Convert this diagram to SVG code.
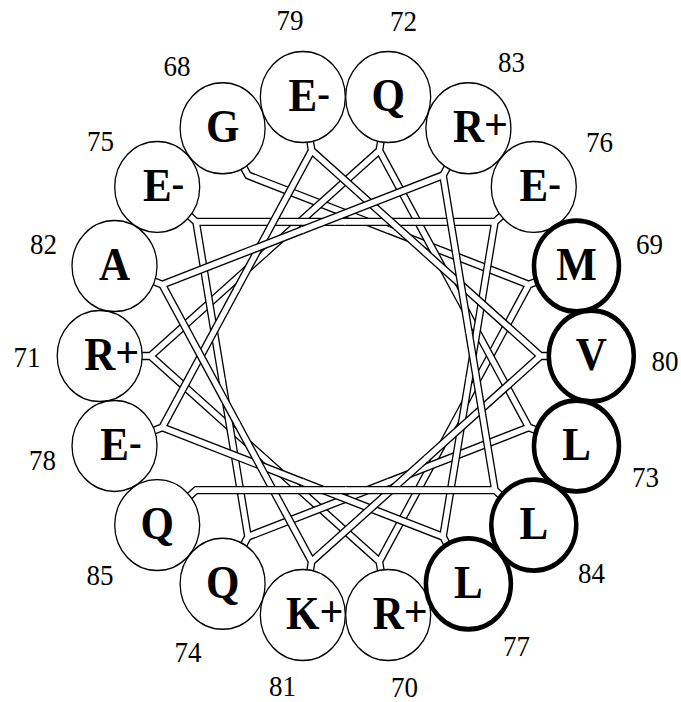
<svg xmlns="http://www.w3.org/2000/svg" xmlns:xlink="http://www.w3.org/1999/xlink" width="681" height="702" viewBox="0 0 681 702">
<style>
.c{fill:#fff;stroke:#000;stroke-width:1.3}
.t{fill:#fff;stroke:#000;stroke-width:4.5}
.aa{font-family:"Liberation Serif","Times New Roman",serif;font-weight:bold;font-size:43px;text-anchor:middle;fill:#000}
.as{font-family:"Liberation Serif","Times New Roman",serif;font-weight:bold;font-size:43px;text-anchor:start;fill:#000}
.pl{font-size:42px}
.mi{font-size:38px}
.num{font-family:"Liberation Serif","Times New Roman",serif;font-size:27px;text-anchor:middle;fill:#000}
.rb{fill:none;stroke:#000;stroke-width:7.9;stroke-linejoin:miter}
.rw{fill:none;stroke:#fff;stroke-width:5.3;stroke-linejoin:miter}
</style>
<defs>
<path id="yk" d="M-96.02,-80.57L0,-195L96.02,-80.57M0,-212L0,-195"/>
<path id="yw" d="M-96.98,-79.42L0,-195L96.98,-79.42M0,-212L0,-195"/>
<path id="sk" d="M0,-212L0,-195L96.02,-80.57"/>
<path id="sw" d="M0,-212L0,-195L96.98,-79.42"/>
<path id="ek" d="M0,-212L0,-195L-96.02,-80.57"/>
<path id="ew" d="M0,-212L0,-195L-96.98,-79.42"/>
</defs>
<rect width="681" height="702" fill="#fff"/>
<g id="wheel" transform="translate(345.5,356) scale(1,1.07)">
<g id="connectors">
<g transform="rotate(330)"><use href="#sk" class="rb"/><use href="#sw" class="rw"/></g>
<g transform="rotate(70)"><use href="#yk" class="rb"/><use href="#yw" class="rw"/></g>
<g transform="rotate(170)"><use href="#yk" class="rb"/><use href="#yw" class="rw"/></g>
<g transform="rotate(270)"><use href="#yk" class="rb"/><use href="#yw" class="rw"/></g>
<g transform="rotate(10)"><use href="#yk" class="rb"/><use href="#yw" class="rw"/></g>
<g transform="rotate(110)"><use href="#yk" class="rb"/><use href="#yw" class="rw"/></g>
<g transform="rotate(210)"><use href="#yk" class="rb"/><use href="#yw" class="rw"/></g>
<g transform="rotate(310)"><use href="#yk" class="rb"/><use href="#yw" class="rw"/></g>
<g transform="rotate(50)"><use href="#yk" class="rb"/><use href="#yw" class="rw"/></g>
<g transform="rotate(150)"><use href="#yk" class="rb"/><use href="#yw" class="rw"/></g>
<g transform="rotate(250)"><use href="#yk" class="rb"/><use href="#yw" class="rw"/></g>
<g transform="rotate(350)"><use href="#yk" class="rb"/><use href="#yw" class="rw"/></g>
<g transform="rotate(90)"><use href="#yk" class="rb"/><use href="#yw" class="rw"/></g>
<g transform="rotate(190)"><use href="#yk" class="rb"/><use href="#yw" class="rw"/></g>
<g transform="rotate(290)"><use href="#yk" class="rb"/><use href="#yw" class="rw"/></g>
<g transform="rotate(30)"><use href="#yk" class="rb"/><use href="#yw" class="rw"/></g>
<g transform="rotate(130)"><use href="#yk" class="rb"/><use href="#yw" class="rw"/></g>
<g transform="rotate(230)"><use href="#ek" class="rb"/><use href="#ew" class="rw"/></g>
</g>
<g id="nodes">
<g id="r68"><circle class="c" cx="-122.9" cy="-212.87" r="42.5"/><text class="aa" x="-122.9" y="-199.87">G</text><text class="num" x="-168.5" y="-261.8">68</text></g>
<g id="r70"><circle class="c" cx="42.68" cy="242.07" r="42.5"/><text class="as" x="27.18" y="255.07">R<tspan class="pl" dy="-3">+</tspan></text><text class="num" x="59" y="319">70</text></g>
<g id="r71"><circle class="c" cx="-245.8" cy="0" r="42.5"/><text class="as" x="-261.3" y="13">R<tspan class="pl" dy="-3">+</tspan></text><text class="num" x="-318.5" y="10.2">71</text></g>
<g id="r72"><circle class="c" cx="42.68" cy="-242.07" r="42.5"/><text class="aa" x="42.68" y="-229.07">Q</text><text class="num" x="58" y="-303.8">72</text></g>
<g id="r74"><circle class="c" cx="-122.9" cy="212.87" r="42.5"/><text class="aa" x="-122.9" y="225.87">Q</text><text class="num" x="-157.5" y="285.8">74</text></g>
<g id="r75"><circle class="c" cx="-188.29" cy="-158" r="42.5"/><text class="as" x="-202.6" y="-145">E<tspan class="mi" dy="-4">-</tspan></text><text class="num" x="-245" y="-191.8">75</text></g>
<g id="r76"><circle class="c" cx="188.29" cy="-158" r="42.5"/><text class="as" x="174" y="-145">E<tspan class="mi" dy="-4">-</tspan></text><text class="num" x="254" y="-190.3">76</text></g>
<g id="r78"><circle class="c" cx="-230.98" cy="84.07" r="42.5"/><text class="as" x="-245.3" y="97.07">E<tspan class="mi" dy="-4">-</tspan></text><text class="num" x="-303" y="106.2">78</text></g>
<g id="r79"><circle class="c" cx="-42.68" cy="-242.07" r="42.5"/><text class="as" x="-57" y="-229.07">E<tspan class="mi" dy="-4">-</tspan></text><text class="num" x="-55.4" y="-305">79</text></g>
<g id="r81"><circle class="c" cx="-42.68" cy="242.07" r="42.5"/><text class="as" x="-59.4" y="255.07">K<tspan class="pl" dy="-3">+</tspan></text><text class="num" x="-63" y="318">81</text></g>
<g id="r82"><circle class="c" cx="-230.98" cy="-84.07" r="42.5"/><text class="aa" x="-230.98" y="-71.07">A</text><text class="num" x="-302" y="-95.8">82</text></g>
<g id="r83"><circle class="c" cx="122.9" cy="-212.87" r="42.5"/><text class="as" x="107.4" y="-199.87">R<tspan class="pl" dy="-3">+</tspan></text><text class="num" x="166" y="-265.8">83</text></g>
<g id="r85"><circle class="c" cx="-188.29" cy="158" r="42.5"/><text class="aa" x="-188.29" y="171">Q</text><text class="num" x="-245.5" y="213.9">85</text></g>
<g id="r69"><circle class="t" cx="230.98" cy="-84.07" r="42.5"/><text class="aa" x="230.98" y="-71.07">M</text><text class="num" x="304" y="-95.8">69</text></g>
<g id="r80"><circle class="t" cx="245.8" cy="0" r="42.5"/><text class="aa" x="245.8" y="13">V</text><text class="num" x="319.5" y="14.2">80</text></g>
<g id="r73"><circle class="t" cx="230.98" cy="84.07" r="42.5"/><text class="aa" x="230.98" y="97.07">L</text><text class="num" x="300" y="122.2">73</text></g>
<g id="r77"><circle class="t" cx="122.9" cy="212.87" r="42.5"/><text class="aa" x="122.9" y="225.87">L</text><text class="num" x="171" y="280.2">77</text></g>
<g id="r84"><circle class="t" cx="188.29" cy="158" r="42.5"/><text class="aa" x="188.29" y="171">L</text><text class="num" x="246" y="212.2">84</text></g>
</g>
</g>
</svg>
